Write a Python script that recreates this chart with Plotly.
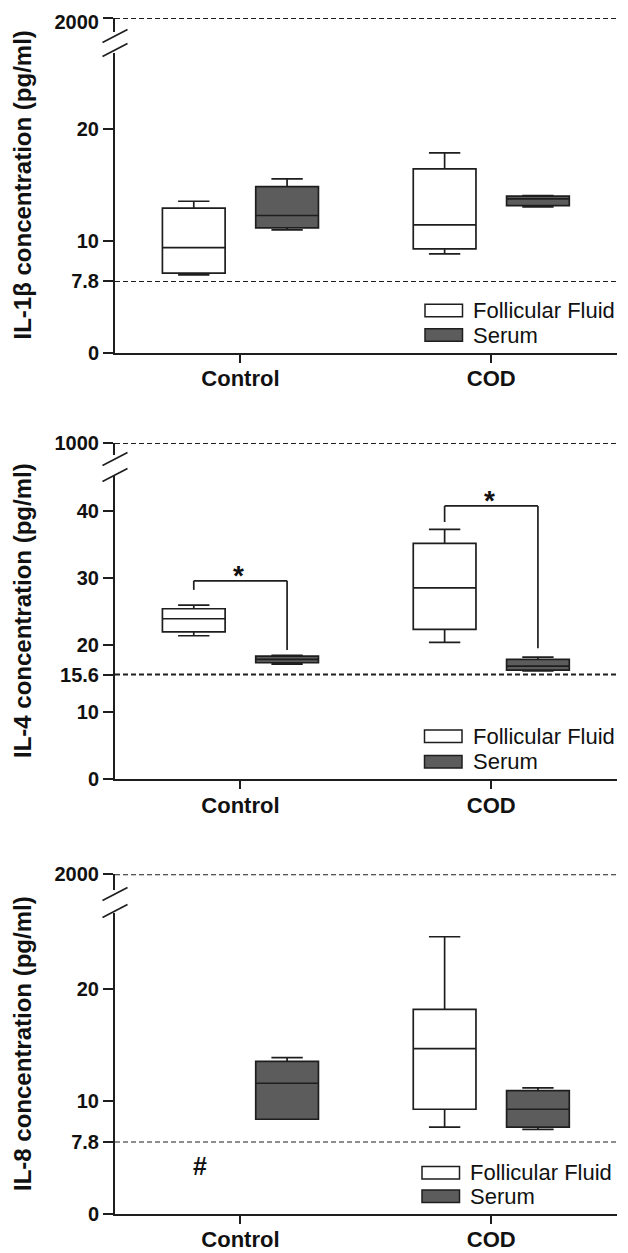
import math
import plotly.graph_objects as go

W, H = 628, 1253          # reference picture size
PAD = 8                   # page body margin
FW, FH = W - PAD, H - PAD  # figure size so that it fits the window
LINE = "#1e1e1e"
FF_FILL = "#ffffff"
SERUM_FILL = "#5c5c5c"
FONT = "Liberation Sans, Arial, sans-serif"

groups = ["Control", "COD"]

# ---------------- IL-1beta (pg/ml) ----------------
il1b_ff_x = ["Control", "COD"]
il1b_ff_low = [8.10, 9.23]
il1b_ff_q1 = [8.19, 9.52]
il1b_ff_med = [9.59, 11.04]
il1b_ff_q3 = [12.24, 15.62]
il1b_ff_high = [12.78, 17.24]

il1b_se_x = ["Control", "COD"]
il1b_se_low = [10.70, 12.34]
il1b_se_q1 = [10.84, 12.44]
il1b_se_med = [11.70, 12.97]
il1b_se_q3 = [13.99, 13.19]
il1b_se_high = [14.68, 13.24]

# ---------------- IL-4 (pg/ml) ----------------
il4_ff_x = ["Control", "COD"]
il4_ff_low = [21.37, 20.39]
il4_ff_q1 = [21.96, 22.32]
il4_ff_med = [23.90, 28.51]
il4_ff_q3 = [25.39, 35.12]
il4_ff_high = [25.94, 37.20]

il4_se_x = ["Control", "COD"]
il4_se_low = [17.16, 16.12]
il4_se_q1 = [17.35, 16.26]
il4_se_med = [17.86, 16.86]
il4_se_q3 = [18.35, 17.86]
il4_se_high = [18.45, 18.20]

# ---------------- IL-8 (pg/ml) ----------------
il8_ff_x = ["COD"]          # Control follicular fluid below detection (#)
il8_ff_low = [8.52]
il8_ff_q1 = [9.52]
il8_ff_med = [13.84]
il8_ff_q3 = [17.65]
il8_ff_high = [27.63]

il8_se_x = ["Control", "COD"]
il8_se_low = [8.95, 8.41]
il8_se_q1 = [8.95, 8.52]
il8_se_med = [11.18, 9.52]
il8_se_q3 = [12.80, 10.68]
il8_se_high = [13.09, 10.86]

# detection limits / break tops
il1b_lod, il4_lod, il8_lod = 7.8, 15.6, 7.8
il1b_top, il4_top, il8_top = 2000, 1000, 2000

# significance brackets (IL-4): [group index, left y0, top y, right y1]
il4_brackets = [(0, 28.2, 29.55, 19.24), (1, 38.3, 40.7, 19.5)]

BOXGAP, BOXGROUPGAP = 0.256, 0.328
OFF = (1 - BOXGAP) / 4.0


def pxx(p):
    return (p - PAD) / FW


def pxy(p):
    return 1 - (p - PAD) / FH


def box(xs, lo, q1, med, q3, hi, fill, og, xa, ya):
    return go.Box(x=xs, lowerfence=lo, q1=q1, median=med, q3=q3, upperfence=hi,
                  fillcolor=fill, line=dict(color=LINE, width=1.7),
                  whiskerwidth=0.5, boxpoints=False, xaxis=xa, yaxis=ya,
                  alignmentgroup="g", offsetgroup=og,
                  showlegend=False, hoverinfo="skip")


fig = go.Figure()
fig.add_trace(box(il1b_ff_x, il1b_ff_low, il1b_ff_q1, il1b_ff_med, il1b_ff_q3, il1b_ff_high, FF_FILL, "ff", "x", "y2"))
fig.add_trace(box(il1b_se_x, il1b_se_low, il1b_se_q1, il1b_se_med, il1b_se_q3, il1b_se_high, SERUM_FILL, "se", "x", "y2"))
fig.add_trace(box(il4_ff_x, il4_ff_low, il4_ff_q1, il4_ff_med, il4_ff_q3, il4_ff_high, FF_FILL, "ff", "x2", "y4"))
fig.add_trace(box(il4_se_x, il4_se_low, il4_se_q1, il4_se_med, il4_se_q3, il4_se_high, SERUM_FILL, "se", "x2", "y4"))
fig.add_trace(box(il8_ff_x, il8_ff_low, il8_ff_q1, il8_ff_med, il8_ff_q3, il8_ff_high, FF_FILL, "ff", "x3", "y7"))
fig.add_trace(box(il8_se_x, il8_se_low, il8_se_q1, il8_se_med, il8_se_q3, il8_se_high, SERUM_FILL, "se", "x3", "y7"))

XL, XR = 115, 616.7
tickfont = dict(family=FONT, size=20, color="#111", weight="bold")


def yax(dom_px, anchor, **kw):
    d = dict(domain=[pxy(dom_px[0]), pxy(dom_px[1])], anchor=anchor, showline=True,
             linecolor=LINE, linewidth=2, ticks="outside", ticklen=10, tickwidth=2,
             tickcolor=LINE, showgrid=False, zeroline=False, tickfont=tickfont,
             automargin=False, ticklabeloverflow="allow")
    d.update(kw)
    return d


def xax(anchor):
    return dict(domain=[pxx(XL), pxx(XR)], anchor=anchor, type="category",
                categoryorder="array", categoryarray=groups, range=[-0.5, 1.5],
                showline=True, linecolor=LINE, linewidth=2, ticks="outside",
                ticklen=8, tickwidth=2, tickcolor=LINE, showgrid=False, zeroline=False,
                automargin=False, ticklabeloverflow="allow", ticklabelstandoff=-3,
                tickfont=dict(family=FONT, size=22, color="#111", weight="bold"))


LOGMID = [math.log10(7.8), math.log10(32)]

fig.update_layout(
    width=FW, height=FH, margin=dict(l=0, r=0, t=0, b=0, autoexpand=False),
    paper_bgcolor="white", plot_bgcolor="rgba(0,0,0,0)",
    boxmode="group", boxgap=BOXGAP, boxgroupgap=BOXGROUPGAP, showlegend=False,
    xaxis=xax("y"), xaxis2=xax("y4"), xaxis3=xax("y6"),
    # panel 1
    yaxis=yax([353, 281], "x", range=[0, 7.8], tickvals=[0, il1b_lod], ticktext=["0", "7.8"]),
    yaxis2=yax([281, 53], "x", type="log", range=LOGMID, tickvals=[10, 20], ticktext=["10", "20"]),
    yaxis3=yax([32, 18], "x", range=[1900, 2000], tickvals=[il1b_top], ticktext=["2000"],
               ticklabelshift=4),
    # panel 2
    yaxis4=yax([779.3, 475], "x2", range=[0, 45.3], tickvals=[0, 10, il4_lod, 20, 30, 40],
               ticktext=["0", "10", "15.6", "20", "30", "40"]),
    yaxis5=yax([455, 443], "x2", range=[900, 1000], tickvals=[il4_top], ticktext=["1000"]),
    # panel 3
    yaxis6=yax([1214, 1141.5], "x3", range=[0, 7.8], tickvals=[0, il8_lod], ticktext=["0", "7.8"]),
    yaxis7=yax([1141.5, 913], "x3", type="log", range=LOGMID, tickvals=[10, 20], ticktext=["10", "20"]),
    yaxis8=yax([890, 874.3], "x3", range=[1900, 2000], tickvals=[il8_top], ticktext=["2000"]),
)

shapes = []
dash = dict(color=LINE, width=2, dash="5px,3px")
for xr, yr, val in [("x", "y", il1b_lod), ("x", "y3", il1b_top), ("x2", "y4", il4_lod),
                    ("x2", "y5", il4_top), ("x3", "y6", il8_lod), ("x3", "y8", il8_top)]:
    shapes.append(dict(type="line", xref=xr + " domain", yref=yr, x0=0, x1=1, y0=val, y1=val, line=dash))

# axis break marks
for cy in [36, 50, 459, 475, 894, 911]:
    shapes.append(dict(type="line", xref="paper", yref="paper",
                       x0=pxx(XL - 12.5), y0=pxy(cy + 6.5), x1=pxx(XL + 12.5), y1=pxy(cy - 6.5),
                       line=dict(color=LINE, width=1.7)))

# significance brackets
annotations = []
for gi, y0, yt, y1 in il4_brackets:
    xl, xr_ = gi - OFF, gi + OFF
    ln = dict(color=LINE, width=1.7)
    shapes.append(dict(type="line", xref="x2", yref="y4", x0=xl, x1=xl, y0=y0, y1=yt, line=ln))
    shapes.append(dict(type="line", xref="x2", yref="y4", x0=xl, x1=xr_, y0=yt, y1=yt, line=ln))
    shapes.append(dict(type="line", xref="x2", yref="y4", x0=xr_, x1=xr_, y0=yt, y1=y1, line=ln))
    annotations.append(dict(x=gi, y=yt, xref="x2", yref="y4", text="*", showarrow=False,
                            yanchor="bottom", yshift=-12, xshift=-2,
                            font=dict(family=FONT, size=28, color="#111", weight="bold")))

annotations.append(dict(x=0 - OFF, y=5.2, xref="x3", yref="y6", text="#", showarrow=False,
                        xshift=6, font=dict(family=FONT, size=25, color="#111", weight="bold")))

# legends
for lx, ff_cy, se_cy in [(425, 310.5, 335), (424.5, 736.3, 761.7), (422, 1172.7, 1196.3)]:
    for cy, fill, label in [(ff_cy, FF_FILL, "Follicular Fluid"), (se_cy, SERUM_FILL, "Serum")]:
        shapes.append(dict(type="rect", xref="paper", yref="paper",
                           x0=pxx(lx), x1=pxx(lx + 37.5), y0=pxy(cy + 6.2), y1=pxy(cy - 6.2),
                           fillcolor=fill, line=dict(color=LINE, width=1.5)))
        annotations.append(dict(x=pxx(lx + 46), y=pxy(cy), xref="paper", yref="paper",
                                text=label, showarrow=False, xanchor="left", yanchor="middle",
                                font=dict(family=FONT, size=22, color="#111")))

# y-axis titles
for title, cy in [("IL-1β concentration (pg/ml)", 185.5), ("IL-4 concentration (pg/ml)", 611),
                  ("IL-8 concentration (pg/ml)", 1044)]:
    annotations.append(dict(x=pxx(22), y=pxy(cy), xref="paper", yref="paper", text=title,
                            textangle=-90, showarrow=False, xanchor="center", yanchor="middle",
                            font=dict(family=FONT, size=24, color="#111", weight="bold")))

fig.update_layout(shapes=shapes, annotations=annotations)
fig.write_html("out.html")
